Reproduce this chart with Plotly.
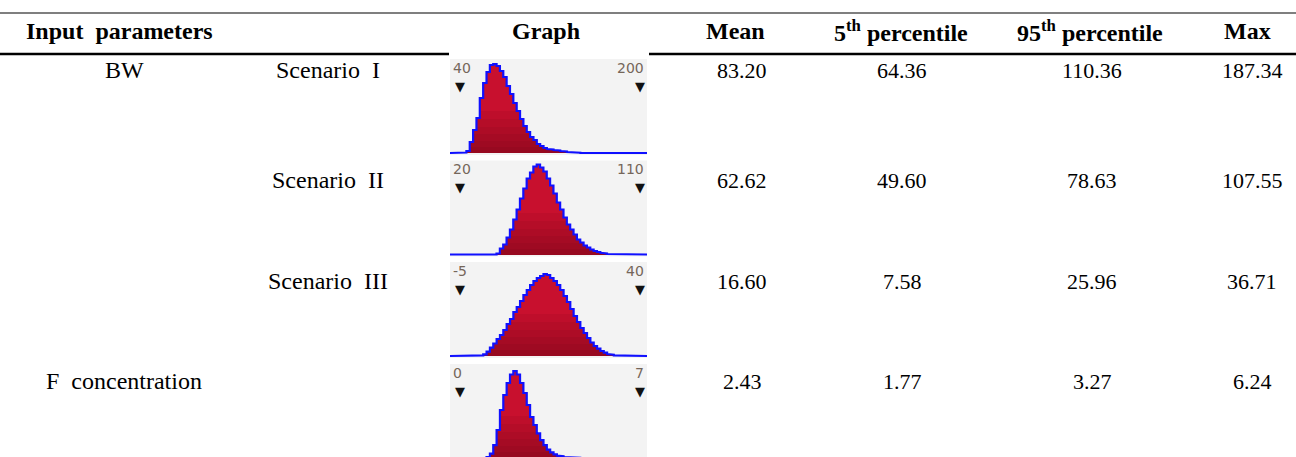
import plotly.graph_objects as go

# ---------------- data ----------------
header_labels = ["Input\u00a0 parameters", "Graph", "Mean",
                 "5<sup>th</sup> percentile", "95<sup>th</sup> percentile", "Max"]
param_labels = ["BW", "", "", "F\u00a0 concentration"]
scenario_labels = ["Scenario\u00a0 I", "Scenario\u00a0 II", "Scenario\u00a0 III", ""]
mean_vals = [83.20, 62.62, 16.60, 2.43]
p5_vals = [64.36, 49.60, 7.58, 1.77]
p95_vals = [110.36, 78.63, 25.96, 3.27]
max_vals = [187.34, 107.55, 36.71, 6.24]

# graph delimiter labels (left / right markers)
graph_lo = [40, 20, -5, 0]
graph_hi = [200, 110, 40, 7]

# histogram bins (first bin centre, bin width) and relative frequencies
bw1_start, bw1_width = 44.2, 2.98
bw1_freq = [0.5, 2, 11, 23, 35, 55, 70, 81, 88, 89, 87, 82, 76, 67, 59, 50, 42, 34,
            27, 21, 16, 13, 9, 7, 5, 4, 3.5, 3, 2.5, 2, 1.5, 1, 0.8, 0.6, 0.3]
bw2_start, bw2_width = 39.1, 1.674
bw2_freq = [1, 6, 10, 17, 25, 35, 45, 56, 66, 76, 82, 88, 90, 87, 83, 76, 69, 61, 52,
            45, 37, 30, 25, 20, 15, 12, 9, 7, 5, 3.5, 2.5, 1.7, 1, 0.5]
bw3_start, bw3_width = 0.39, 0.837
bw3_freq = [0.7, 1.7, 4.4, 8.4, 12.5, 17, 21, 26, 32, 37, 44, 49, 55, 61, 66, 71, 75, 78,
            80, 82, 81, 78, 75, 71, 66, 60, 54, 47, 40, 34, 28, 23, 18, 13.5, 10, 7.4, 5,
            3.4, 2, 1.3, 0.7]
f_start, f_width = 1.098, 0.1302
f_freq = [1, 4.4, 12.8, 28, 48, 63, 75, 83.5, 87, 83.5, 75, 65, 53, 41, 33, 24.6, 17.8,
          12.8, 8.4, 5.7, 3.7, 2.3, 1.7, 1, 0.7, 0.5, 0.3, 0.2, 0.1]

hists = [(bw1_start, bw1_width, bw1_freq), (bw2_start, bw2_width, bw2_freq),
         (bw3_start, bw3_width, bw3_freq), (f_start, f_width, f_freq)]

# ---------------- layout geometry (pixels) ----------------
W, H = 1296, 457
SERIF = "Liberation Serif"
FS_NUM = 22
FS_TXT = 24
panel_left, panel_right = 450, 647
mark_left, mark_right = 460, 640
baselines = [153, 254.5, 356, 458]
panel_h = 94
row_y = [70, 180, 281, 381]


def px(x):
    return x / W


def py(y):
    return 1 - y / H


fig = go.Figure()
annotations = []
shapes = []

red = "#c8102e"
blue = "#1010ff"
lab_font = dict(family="DejaVu Sans", size=14, color="#75665a")

for i, (start, width, freq) in enumerate(hists):
    ax = "" if i == 0 else str(i + 1)
    xa, ya = "x" + ax, "y" + ax
    lo, hi = graph_lo[i], graph_hi[i]
    s = (hi - lo) / (mark_right - mark_left)
    xr = [lo - (mark_left - panel_left) * s, hi + (panel_right - mark_right) * s]
    base = baselines[i]
    top_px = base - panel_h
    bot_px = min(base + 2, H)
    yr = [base - bot_px, base - top_px]

    centers = [start + k * width for k in range(len(freq))]
    fig.add_trace(go.Bar(x=centers, y=freq, width=width, marker=dict(color=red, line=dict(width=0)),
                         xaxis=xa, yaxis=ya, showlegend=False, hoverinfo="skip"))
    for lim in (42, 34, 26, 19, 12, 6):
        fig.add_trace(go.Bar(x=centers, y=[min(v, lim) for v in freq], width=width,
                             marker=dict(color="rgba(70,0,10,0.07)", line=dict(width=0)),
                             xaxis=xa, yaxis=ya, showlegend=False, hoverinfo="skip"))
    # step outline
    sx, sy = [xr[0], centers[0] - width / 2], [0, 0]
    for c, v in zip(centers, freq):
        sx += [c - width / 2, c + width / 2]
        sy += [v, v]
    sx += [centers[-1] + width / 2, xr[1]]
    sy += [0, 0]
    fig.add_trace(go.Scatter(x=sx, y=sy, mode="lines", line=dict(color=blue, width=2.2),
                             xaxis=xa, yaxis=ya, showlegend=False, hoverinfo="skip"))

    fig.layout["xaxis" + ax] = dict(domain=[px(panel_left), px(panel_right)], range=xr,
                                    visible=False, anchor=ya, fixedrange=True)
    fig.layout["yaxis" + ax] = dict(domain=[py(bot_px), py(top_px)], range=yr,
                                    visible=False, anchor=xa, fixedrange=True)

    # delimiter labels and markers
    annotations.append(dict(x=px(panel_left + 1), y=py(top_px + 9), xref="paper", yref="paper",
                            text=str(lo), showarrow=False, xanchor="left", yanchor="middle",
                            font=lab_font))
    annotations.append(dict(x=px(panel_right - 1), y=py(top_px + 9), xref="paper", yref="paper",
                            text=str(hi), showarrow=False, xanchor="right", yanchor="middle",
                            font=lab_font))
    for v in (lo, hi):
        annotations.append(dict(x=v, y=py(top_px + 27), xref=xa, yref="paper", text="\u25bc",
                                showarrow=False, xanchor="center", yanchor="middle",
                                font=dict(family="DejaVu Sans", size=13, color="#111111")))

# header
hdr_x = [24, 546, 735, 901, 1090, 1247]
for j, lab in enumerate(header_labels):
    annotations.append(dict(x=px(hdr_x[j]), y=py(31), xref="paper", yref="paper",
                            text="<b>" + lab + "</b>", showarrow=False,
                            xanchor="left" if j == 0 else "center", yanchor="middle",
                            font=dict(family=SERIF, size=FS_TXT, color="#000000")))

# body rows
val_x = [742, 902, 1092, 1252]
for r in range(4):
    if param_labels[r]:
        annotations.append(dict(x=px(124), y=py(row_y[r]), xref="paper", yref="paper",
                                text=param_labels[r], showarrow=False, xanchor="center",
                                yanchor="middle", font=dict(family=SERIF, size=FS_TXT, color="#000")))
    if scenario_labels[r]:
        annotations.append(dict(x=px(328), y=py(row_y[r]), xref="paper", yref="paper",
                                text=scenario_labels[r], showarrow=False, xanchor="center",
                                yanchor="middle", font=dict(family=SERIF, size=FS_TXT, color="#000")))
    for j, arr in enumerate([mean_vals, p5_vals, p95_vals, max_vals]):
        annotations.append(dict(x=px(val_x[j]), y=py(row_y[r]), xref="paper", yref="paper",
                                text=f"{arr[r]:.2f}", showarrow=False, xanchor="center",
                                yanchor="middle", font=dict(family=SERIF, size=FS_NUM, color="#000")))

# rules
shapes.append(dict(type="line", xref="paper", yref="paper", x0=0, x1=1, y0=py(13), y1=py(13),
                   line=dict(color="#7f7f7f", width=2)))
shapes.append(dict(type="line", xref="paper", yref="paper", x0=0, x1=px(449), y0=py(54), y1=py(54),
                   line=dict(color="#000000", width=2.5)))
shapes.append(dict(type="line", xref="paper", yref="paper", x0=px(649), x1=1, y0=py(54), y1=py(54),
                   line=dict(color="#000000", width=2.5)))

fig.update_layout(width=W, height=H, margin=dict(l=0, r=0, t=0, b=0),
                  paper_bgcolor="white", plot_bgcolor="#f3f3f3",
                  barmode="overlay", bargap=0, annotations=annotations, shapes=shapes,
                  showlegend=False)

fig.write_html("out.html", post_script="document.body.style.margin='0';",
               config={"displayModeBar": False})
